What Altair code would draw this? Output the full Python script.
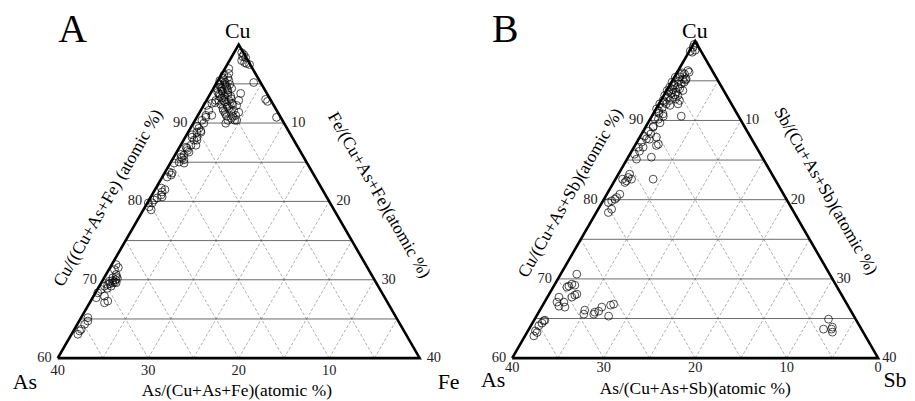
import altair as alt
import pandas as pd
import numpy as np

# ---------------- data (atomic %) ----------------
# Panel A: Cu vs Fe (As = 100 - Cu - Fe)
a_cu = [98.98, 98.73, 98.35, 97.97, 97.71, 97.59, 97.46, 98.48,
        96.95, 96.32, 95.81, 95.17, 93.02, 92.76, 90.73,
        95.43, 95.43, 95.43, 94.92, 94.92, 94.92, 94.41, 94.41, 94.41, 94.41,
        93.90, 93.90, 93.90, 93.40, 93.40, 93.40, 92.89, 92.89, 92.89,
        92.38, 92.38, 92.38, 91.87, 91.87, 91.37, 91.37, 90.86, 90.86,
        90.35, 90.35, 89.97,
        95.20, 95.00, 94.70, 94.60, 94.20, 94.10, 93.70, 93.60, 93.20, 93.10,
        92.70, 92.60, 92.10, 91.60, 91.10, 90.60, 95.70, 96.10,
        93.78, 92.89, 92.25, 91.62, 91.37, 90.98, 90.35, 92.51,
        92.25, 91.62, 90.98, 90.35, 89.97, 89.33, 88.83, 88.19, 87.81, 87.17,
        87.17, 86.79, 86.29, 85.90, 85.52, 85.02, 84.89, 84.89, 90.98, 90.73,
        88.83, 88.19, 87.81, 86.92, 85.65, 83.75, 83.37, 83.11, 83.62, 81.21,
        80.83, 80.57, 80.44, 80.19, 79.81, 79.30, 79.81, 78.92, 92.51, 92.89,
        89.60, 89.00, 88.50, 86.50, 86.00, 85.30, 81.70, 81.50,
        71.94, 71.30, 70.67, 70.25, 69.82, 69.61, 69.61, 69.40, 69.18, 69.18,
        68.76, 68.34, 67.71, 67.91, 67.28, 67.07, 65.17, 64.74, 64.32, 63.68,
        63.05, 63.47, 71.56, 70.16, 69.90, 69.50, 70.00, 70.40, 69.70, 68.90]
a_fe = [0.84, 1.19, 1.59, 1.34, 1.80, 2.09, 2.47, 1.20,
        0.43, 0.75, 0.89, 4.07, 6.46, 6.80, 8.81,
        0.20, 0.64, 1.19, 0.34, 1.00, 1.55, 0.37, 0.92, 1.47, 2.02,
        0.74, 1.29, 1.84, 1.21, 1.76, 2.42, 1.36, 1.91, 2.46,
        1.84, 2.49, 3.15, 2.31, 2.97, 2.78, 3.44, 3.25, 3.91,
        3.62, 4.38, 3.58,
        0.90, 0.40, 1.30, 0.70, 1.70, 1.10, 1.00, 2.00, 1.50, 2.60,
        2.10, 1.10, 2.70, 2.50, 3.00, 3.90, 0.40, 0.30,
        3.33, 3.56, 3.65, 3.64, 4.32, 4.18, 4.60, 2.98,
        0.35, 0.89, 0.88, 0.76, 1.16, 0.93, 1.41, 1.29, 1.15, 1.69,
        1.14, 0.89, 1.36, 1.00, 0.98, 0.90, 1.52, 0.42, 1.54, 1.01,
        0.97, 0.74, 1.48, 0.71, 0.80, 0.44, 0.85, 0.53, 0.82, 0.93,
        1.01, 1.25, 0.77, 0.56, 0.54, 0.46, 0.10, 0.87, 0.78, 1.03,
        0.60, 1.30, 0.60, 1.10, 0.60, 1.30, 0.60, 1.10,
        0.48, 0.62, 1.12, 0.96, 0.80, 1.27, 1.65, 0.82, 0.57, 1.31,
        0.42, 0.25, 0.40, 1.21, 1.89, 1.63, 0.75, 0.96, 0.81, 0.76,
        0.70, 0.68, 0.92, 1.52, 1.10, 1.00, 1.40, 1.30, 1.45, 1.00]

# Panel B: Cu vs Sb (As = 100 - Cu - Sb)
b_cu = [99.60, 99.24, 98.61, 98.86, 98.74,
        96.30, 95.87, 95.24, 94.61, 94.20, 93.56, 93.15, 92.93, 92.52, 92.09,
        95.87, 95.46, 94.83, 94.20, 93.78, 93.15, 92.52, 92.09, 91.46, 93.78,
        92.52, 92.09, 95.24, 96.09, 94.83, 90.54,
        95.50, 94.90, 94.40, 93.90, 93.40, 92.90, 96.00,
        95.10, 94.50, 94.00, 93.60, 93.20, 92.70, 92.30, 91.90, 91.60, 91.20,
        90.54, 90.16, 89.27, 88.64, 88.01, 87.63, 87.89, 87.00, 87.26, 86.62,
        85.74, 85.11, 86.12, 85.36, 90.83, 90.20, 89.15, 87.67, 86.84, 86.62,
        90.90, 89.70, 88.30,
        83.22, 82.80, 82.37, 82.17, 82.59, 82.59, 82.59, 80.69, 80.28, 80.06,
        79.85, 79.65, 78.80, 78.38,
        70.60, 69.09, 69.34, 68.96, 69.21, 67.95, 67.70, 68.08, 67.70, 67.07,
        67.07, 66.56, 66.44, 66.06, 65.55, 65.55, 65.80, 65.93, 66.44, 65.30,
        66.69, 66.81, 64.71, 64.42, 64.08, 63.44, 62.81, 63.24, 64.79,
        64.92, 63.66, 63.66, 63.28, 63.91]
b_sb = [0.10, 0.16, 0.37, 0.57, 0.09,
        1.05, 0.90, 1.04, 1.17, 1.02, 1.15, 1.54, 1.11, 0.95, 0.80,
        0.36, 0.10, 0.05, 0.11, 0.05, 0.09, 0.23, 0.08, 0.05, 1.77,
        2.03, 2.08, 1.40, 1.30, 1.39, 3.21,
        0.60, 0.70, 0.60, 0.60, 0.70, 0.50, 0.60,
        1.40, 0.40, 1.30, 0.30, 1.20, 1.50, 0.50, 1.30, 0.60, 0.40,
        1.25, 0.90, 0.80, 0.57, 0.45, 1.18, 1.82, 2.48, 0.50, 0.49,
        0.50, 1.03, 0.86, 2.53, 1.07, 0.48, 0.82, 0.84, 2.34, 1.00,
        0.60, 1.30, 1.00,
        1.22, 1.28, 1.31, 1.23, 1.75, 0.77, 4.11, 1.42, 1.27, 1.20,
        0.95, 0.68, 1.47, 1.32,
        1.76, 1.65, 1.85, 1.50, 2.24, 2.87, 2.67, 3.03, 1.26, 1.36,
        2.12, 1.83, 2.54, 4.90, 5.05, 6.14, 6.12, 6.49, 6.57, 7.89,
        7.41, 7.68, 1.10, 1.05, 0.87, 0.82, 0.96, 1.10, 1.18,
        32.11, 32.20, 33.07, 33.36, 33.04]

# grid levels and tick labels
cu_grid = [65, 70, 75, 80, 85, 90, 95]
side_grid = [5, 10, 15, 20, 25, 30, 35]
cu_ticks = [60, 70, 80, 90]
right_ticks = [10, 20, 30, 40]
as_ticks_a = [40, 30, 20, 10]
as_ticks_b = [40, 30, 20, 10, 0]

SERIF = "Liberation Serif"
H = np.sqrt(3) / 2


def tern(cu, r):
    v = (cu - 60) / 40.0
    return r / 40.0 + v / 2.0, v * H


def make_panel(cu_vals, r_vals, as_ticks, names, titles, lay, xdom, ydom, w, h):
    X = lambda f: alt.X(f, type="quantitative", scale=alt.Scale(domain=xdom, nice=False, zero=False), axis=None)
    Y = lambda f: alt.Y(f, type="quantitative", scale=alt.Scale(domain=ydom, nice=False, zero=False), axis=None)

    rows = []
    for c in cu_grid:
        x1, y1 = tern(c, 0); x2, y2 = tern(c, 100 - c)
        rows.append(dict(x=x1, y=y1, x2=x2, y2=y2, kind="h"))
    for r in side_grid:
        x1, y1 = tern(60, r); x2, y2 = tern(100 - r, r)
        rows.append(dict(x=x1, y=y1, x2=x2, y2=y2, kind="d"))
        x1, y1 = tern(60, 40 - r); x2, y2 = tern(100 - r, 0)
        rows.append(dict(x=x1, y=y1, x2=x2, y2=y2, kind="d"))
    seg = pd.DataFrame(rows)
    hgrid = alt.Chart(seg[seg.kind == "h"]).mark_rule(color="#444", strokeWidth=0.8).encode(
        x=X("x"), y=Y("y"), x2="x2", y2="y2")
    dgrid = alt.Chart(seg[seg.kind == "d"]).mark_rule(color="#777", strokeWidth=0.6, strokeDash=[3, 2]).encode(
        x=X("x"), y=Y("y"), x2="x2", y2="y2")

    verts = [(60, 0), (100, 0), (60, 40), (60, 0)]
    tri = pd.DataFrame([dict(zip(("x", "y"), tern(c, r)), o=i) for i, (c, r) in enumerate(verts)])
    edge = alt.Chart(tri).mark_line(color="black", strokeWidth=2.6, strokeJoin="miter").encode(
        x=X("x"), y=Y("y"), order="o:Q")

    pts = pd.DataFrame({"Cu": cu_vals, "R": r_vals})
    points = alt.Chart(pts).transform_calculate(
        px="datum.R/40 + (datum.Cu-60)/80",
        py="(datum.Cu-60)/40*0.8660254",
    ).mark_point(shape="circle", filled=False, color="black", size=62, strokeWidth=1).encode(
        x=X("px"), y=Y("py"))

    def tdf(pairs, labels):
        return pd.DataFrame([dict(zip(("x", "y"), tern(c, r)), t=str(l)) for (c, r), l in zip(pairs, labels)])

    left = alt.Chart(tdf([(t, 0) for t in cu_ticks], cu_ticks)).mark_text(
        align="right", baseline="middle", dx=-6, font=SERIF, fontSize=14.5, color="#222").encode(
        x=X("x"), y=Y("y"), text="t:N")
    right = alt.Chart(tdf([(100 - t, t) for t in right_ticks], right_ticks)).mark_text(
        align="left", baseline="middle", dx=lay["rdx"], font=SERIF, fontSize=14.5, color="#222").encode(
        x=X("x"), y=Y("y"), text="t:N")
    bottom = alt.Chart(tdf([(60, 40 - a) for a in as_ticks], as_ticks)).mark_text(
        align="center", baseline="middle", dy=lay["bdy"], font=SERIF, fontSize=14.5, color="#222").encode(
        x=X("x"), y=Y("y"), text="t:N")

    def lab(key, text, size, angle=0):
        x, y = lay[key]
        d = pd.DataFrame({"x": [x], "y": [y], "t": [text]})
        kw = dict(align="center", baseline="middle", font=SERIF, fontSize=size, color="black")
        if angle:
            kw["angle"] = angle
        return alt.Chart(d).mark_text(**kw).encode(x=X("x"), y=Y("y"), text="t:N")

    labels = [
        lab("letter", names[0], 40),
        lab("top", names[1], 22),
        lab("bl", names[2], 22),
        lab("br", names[3], 22),
        lab("tl", titles[0], 17.5, 300),
        lab("tr", titles[1], 17.5, 60),
        lab("tb", titles[2], 17.5),
    ]
    return alt.layer(dgrid, hgrid, edge, points, left, right, bottom, *labels).properties(width=w, height=h)


lay_a = dict(letter=(0.041, 0.907), top=(0.497, 0.904), bl=(-0.091, -0.066), br=(1.080, -0.066),
             tl=(0.140, 0.442), tr=(0.887, 0.450), tb=(0.495, -0.091), rdx=7, bdy=13)
lay_b = dict(letter=(-0.019, 0.897), top=(0.499, 0.895), bl=(-0.052, -0.060), br=(1.046, -0.060),
             tl=(0.160, 0.451), tr=(0.856, 0.456), tb=(0.500, -0.084), rdx=4, bdy=10)

panel_a = make_panel(a_cu, a_fe, as_ticks_a, ("A", "Cu", "As", "Fe"),
                     ("Cu/((Cu+As+Fe) (atomic %)", "Fe/(Cu+As+Fe)(atomic %)", "As/(Cu+As+Fe)(atomic %)"),
                     lay_a, [-0.1374, 1.0907], [-0.0934, 0.9643], 447, 385)
panel_b = make_panel(b_cu, b_sb, as_ticks_b, ("B", "Cu", "As", "Sb"),
                     ("Cu/(Cu+As+Sb)(atomic %)", "Sb/(Cu+As+Sb)(atomic %)", "As/(Cu+As+Sb)(atomic %)"),
                     lay_b, [-0.1630, 1.0652], [-0.0924, 0.9538], 452, 385)

chart = alt.hconcat(panel_a, panel_b, spacing=0, bounds="flush", padding=0).configure(
    background="white").configure_view(stroke=None)

chart.save("out.html", embed_options={"renderer": "svg", "actions": False})
